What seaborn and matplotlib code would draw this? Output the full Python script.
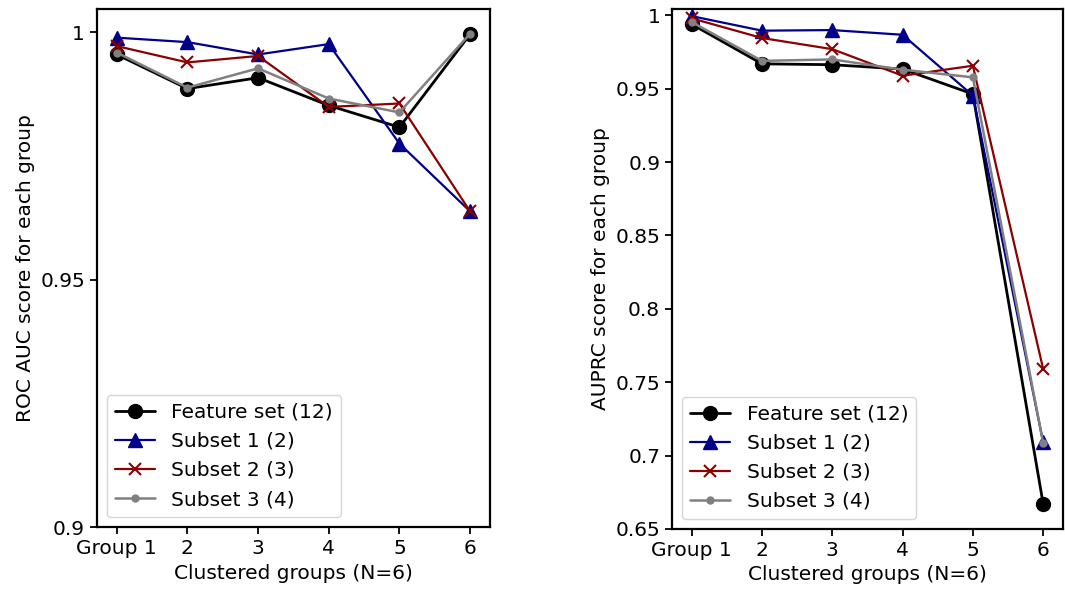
import matplotlib
matplotlib.use("Agg")
import matplotlib.pyplot as plt
import seaborn as sns
from matplotlib.ticker import FuncFormatter

# x categories
groups = ["Group 1", "2", "3", "4", "5", "6"]

# ROC AUC per group (left panel)
roc_feature = [0.9955, 0.9886, 0.9908, 0.9852, 0.9808, 0.9996]
roc_subset1 = [0.9989, 0.9980, 0.9955, 0.9976, 0.9775, 0.9638]
roc_subset2 = [0.9972, 0.9939, 0.9952, 0.9849, 0.9856, 0.9638]
roc_subset3 = [0.9959, 0.9888, 0.9927, 0.9866, 0.9838, 0.9997]

# AUPRC per group (right panel)
prc_feature = [0.9940, 0.9670, 0.9664, 0.9634, 0.9464, 0.6670]
prc_subset1 = [0.9995, 0.9896, 0.9900, 0.9868, 0.9454, 0.7090]
prc_subset2 = [0.9980, 0.9846, 0.9770, 0.9589, 0.9657, 0.7590]
prc_subset3 = [0.9955, 0.9690, 0.9700, 0.9630, 0.9578, 0.7085]

labels = ["Feature set (12)", "Subset 1 (2)", "Subset 2 (3)", "Subset 3 (4)"]
colors = ["black", "#00008b", "#8b0000", "grey"]
markers = ["o", "^", "x", "o"]
msizes = [10, 10, 9, 5]
lwidths = [2.0, 1.6, 1.6, 1.8]

sns.set_style("ticks")
plt.rcParams["font.family"] = ["DejaVu Sans"]
plt.rcParams["font.size"] = 14.5
plt.rcParams["xtick.color"] = "black"
plt.rcParams["ytick.color"] = "black"
plt.rcParams["axes.labelcolor"] = "black"
plt.rcParams["text.color"] = "black"
plt.rcParams["axes.edgecolor"] = "black"
plt.rcParams["axes.linewidth"] = 1.6


def draw_panel(ax, series, ylabel, yticks, ylim):
    for vals, lab, c, m, ms, lw in zip(series, labels, colors, markers, msizes, lwidths):
        sns.lineplot(x=groups, y=vals, ax=ax, color=c, marker=m, markersize=ms,
                     linewidth=lw, label=lab, markeredgecolor=c,
                     markeredgewidth=1.5 if m == "x" else 1.0, sort=False)
    ax.set_xlim(-0.28, 5.28)
    ax.set_ylim(*ylim)
    ax.set_yticks(yticks)
    ax.yaxis.set_major_formatter(FuncFormatter(lambda v, p: "{:g}".format(round(v, 3))))
    ax.set_xlabel("Clustered groups (N=6)", fontsize=14.5)
    ax.set_ylabel(ylabel, fontsize=14.5)
    ax.tick_params(labelsize=14.5, length=5, width=1.3)
    ax.legend(loc="lower left", fontsize=14.5, frameon=True, framealpha=0.8,
              edgecolor="0.8", fancybox=True)


fig = plt.figure(figsize=(10.65, 5.97), dpi=100)
ax1 = fig.add_axes([0.091, 0.117, 0.369, 0.868])
ax2 = fig.add_axes([0.631, 0.114, 0.367, 0.871])

draw_panel(ax1, [roc_feature, roc_subset1, roc_subset2, roc_subset3],
           "ROC AUC score for each group", [0.9, 0.95, 1.0], (0.9, 1.0047))
draw_panel(ax2, [prc_feature, prc_subset1, prc_subset2, prc_subset3],
           "AUPRC score for each group",
           [0.65, 0.7, 0.75, 0.8, 0.85, 0.9, 0.95, 1.0], (0.65, 1.0044))

fig.savefig("out.png", dpi=100)
